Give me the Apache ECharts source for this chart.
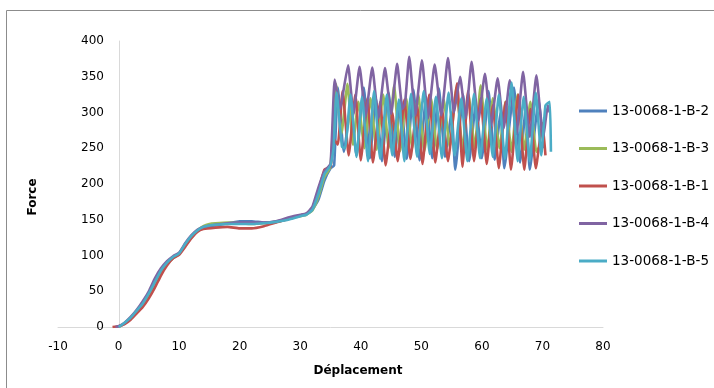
<!DOCTYPE html>
<html>
<head>
<meta charset="utf-8">
<script src="https://cdn.jsdelivr.net/npm/echarts@6/dist/echarts.min.js"></script>
<style>
html,body{margin:0;padding:0;background:#fff;}
#chart{width:714px;height:388px;}
</style>
</head>
<body>
<div id="chart"></div>
<script>
var xTicks = [-10, 0, 10, 20, 30, 40, 50, 60, 70, 80];
var yTicks = [0, 50, 100, 150, 200, 250, 300, 350, 400];
var seriesNames = ['13-0068-1-B-2', '13-0068-1-B-3', '13-0068-1-B-1', '13-0068-1-B-4', '13-0068-1-B-5'];

var dataB2 = [[0,0],[1,5],[2,12],[3,21],[4,31],[5,44],[6,60],[7,76],[8,89],[9,97],[10,103],[11,114],[12,125],[13,134],[14,139],[15,141],[16,142],[18,145],[20,148],[22,148],[24,146],[26,147],[28,151],[30,156],[31,158],[32,164],[33,178],[34,205],[35,222],[35.6,226],
  [36.2,335],[37.2,245],[38.3,305],[39.3,240],[40.5,335],[41.5,236],[42.5,320],[43.5,232],[44.6,328],[45.6,238],[46.6,318],[47.6,235],[48.7,332],[49.7,233],[50.8,322],[51.8,236],[52.9,334],[53.9,238],[55.0,300],[55.6,220],[56.9,325],[57.9,232],[59.0,312],[60.0,236],[61.1,330],[62.1,234],[63.1,300],[63.7,222],[65.3,335],[66.3,230],[67.3,310],[67.9,220],[69.4,318],[70.2,250]];

var dataB3 = [[0,0],[1,5],[2,13],[3,22],[4,32],[5,45],[6,62],[7,77],[8,88],[9,96],[10,102],[11,114],[12,126],[13,135],[14,141],[15,144],[16,145],[18,146],[20,145],[22,144],[24,145],[26,147],[28,151],[30,155],[31,157],[32,163],[33,182],[34,210],[35,224],
  [35.9,340],[36.8,270],[37.8,340],[38.7,255],[39.6,315],[40.6,250],[41.6,320],[42.6,248],[43.7,325],[44.6,250],[45.5,338],[46.5,246],[47.5,320],[48.5,250],[49.5,325],[50.5,246],[51.6,320],[52.6,248],[53.7,318],[54.7,252],[55.8,335],[56.8,248],[57.8,325],[58.8,250],[59.8,338],[60.9,246],[61.8,320],[62.9,250],[63.9,315],[64.9,245],[65.9,325],[67.0,248],[68.0,315],[69.0,245],[69.7,255]];

var dataB1 = [[-1,0],[0,1],[1,4],[2,10],[3,19],[4,28],[5,40],[6,55],[7,72],[8,86],[9,96],[10,101],[11,112],[12,124],[13,133],[14,137],[16,139],[18,140],[20,138],[22,138],[24,141],[26,146],[28,151],[30,156],[31,158],[32,166],[33,190],[34,220],[35,224],
  [35.6,262],[36.2,255],[37.0,330],[38.0,240],[39.1,325],[40.0,233],[41.1,320],[42.0,230],[43.2,315],[44.1,226],[45.2,300],[46.1,232],[47.2,318],[48.2,235],[49.3,310],[50.2,228],[51.3,325],[52.3,230],[53.4,305],[54.4,232],[55.9,341],[56.8,224],[57.7,330],[58.7,232],[59.8,320],[60.8,228],[61.8,310],[62.8,222],[63.9,315],[64.8,220],[66.0,325],[67.0,220],[68.0,305],[68.9,222],[70.0,285],[70.5,240]];

var dataB4 = [[-0.5,0],[0,1],[1,6],[2,14],[3,24],[4,36],[5,50],[6,68],[7,82],[8,92],[9,99],[10,104],[11,117],[12,128],[13,136],[14,140],[16,143],[18,145],[20,146],[22,146],[24,146],[26,148],[28,153],[30,157],[31,159],[32,168],[33,195],[34,218],[35,228],
  [35.7,346],[36.6,305],[36.9,318],[37.9,366],[38.8,298],[39.8,364],[40.8,295],[41.9,363],[42.9,292],[44.0,362],[45.0,298],[46.0,368],[46.9,305],[47.3,312],[48.0,378],[49.0,296],[50.1,373],[51.1,292],[52.2,367],[53.3,296],[54.4,376],[55.4,300],[56.4,350],[57.3,292],[58.3,371],[59.4,288],[60.5,354],[61.5,282],[62.6,348],[63.6,278],[64.6,345],[65.7,270],[66.8,357],[67.9,266],[69.0,352],[70.1,264],[70.9,310],[71.2,300]];

var dataB5 = [[0,0],[1,6],[2,13],[3,23],[4,33],[5,47],[6,63],[7,79],[8,90],[9,98],[10,103],[11,116],[12,127],[13,135],[14,140],[15,142],[16,143],[18,144],[20,144],[22,144],[24,145],[26,147],[28,150],[30,155],[31,157],[32,164],[33,186],[34,214],[35,226],
  [35.5,250],[36.0,328],[36.9,252],[37.4,250],[38.3,325],[39.3,238],[40.2,322],[41.2,232],[42.2,330],[43.2,235],[44.3,325],[45.2,240],[46.3,318],[47.2,232],[48.3,326],[49.3,238],[50.4,330],[51.4,242],[52.4,322],[53.4,236],[54.5,328],[55.5,240],[56.6,320],[57.6,232],[58.7,326],[59.7,236],[60.8,320],[61.8,238],[62.8,325],[63.8,235],[64.9,342],[65.9,232],[66.9,322],[67.9,232],[68.9,328],[69.8,240],[70.5,310],[71.2,315],[71.4,245]];

var seriesData = [dataB2, dataB3, dataB1, dataB4, dataB5];
var colors = ['#4F81BD', '#9BBB59', '#C0504D', '#8064A2', '#4BACC6'];

var chart = echarts.init(document.getElementById('chart'), null, {renderer: 'canvas'});
var font = 'DejaVu Sans';

var option = {
  animation: false,
  color: colors,
  grid: {left: 58, right: 111, top: 41, bottom: 61},
  xAxis: {
    type: 'value',
    min: xTicks[0], max: xTicks[xTicks.length - 1], interval: 10,
    axisLine: {show: true, onZero: false, lineStyle: {color: '#d9d9d9', width: 1}},
    axisTick: {show: false},
    splitLine: {show: false},
    axisLabel: {color: '#000', fontFamily: font, fontSize: 12, margin: 14, showMinLabel: true, showMaxLabel: true}
  },
  yAxis: {
    type: 'value',
    min: yTicks[0], max: yTicks[yTicks.length - 1], interval: 50,
    offset: -61,
    axisLine: {show: true, onZero: false, lineStyle: {color: '#d9d9d9', width: 1}},
    axisTick: {show: false},
    splitLine: {show: false},
    axisLabel: {color: '#000', fontFamily: font, fontSize: 12, margin: 15}
  },
  legend: {
    orient: 'vertical',
    left: 579, top: 103, padding: 0,
    itemWidth: 28, itemHeight: 3, itemGap: 21.5,
    icon: 'rect',
    textStyle: {color: '#000', fontFamily: font, fontSize: 13.5, lineHeight: 16},
    data: seriesNames
  },
  graphic: [
    {type: 'rect', silent: true, shape: {x: 6.5, y: 10.5, width: 760, height: 420}, style: {fill: 'none', stroke: '#8c8c8c', lineWidth: 1}},
    {type: 'text', x: 33, y: 197, rotation: Math.PI / 2, style: {text: 'Force', font: 'bold 12px "DejaVu Sans"', fill: '#000', align: 'center', verticalAlign: 'middle'}},
    {type: 'text', x: 358, y: 371, style: {text: 'Déplacement', font: 'bold 12px "DejaVu Sans"', fill: '#000', align: 'center', verticalAlign: 'middle'}}
  ],
  series: seriesNames.map(function (name, i) {
    return {
      name: name,
      type: 'line',
      data: seriesData[i],
      showSymbol: false,
      symbol: 'none',
      smooth: 0.15,
      lineStyle: {width: 2.6, color: colors[i]},
      itemStyle: {color: colors[i]}
    };
  })
};
chart.setOption(option);
</script>
</body>
</html>
